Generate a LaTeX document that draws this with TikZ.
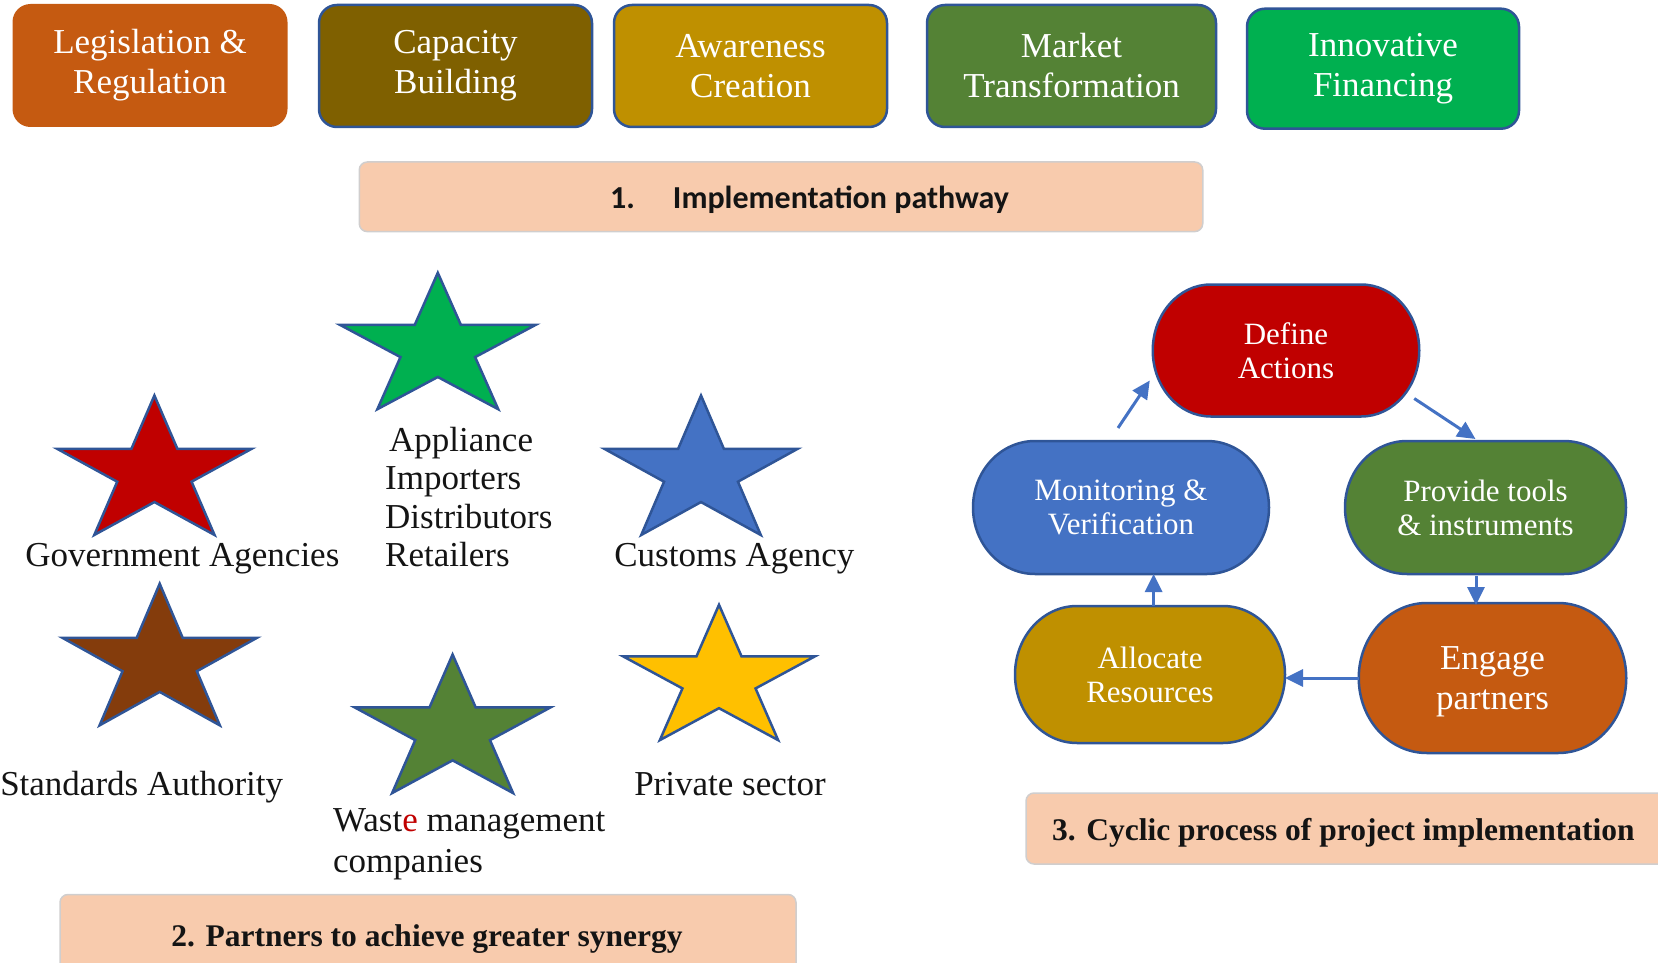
\documentclass[tikz,border=0pt]{standalone}
\usepackage{fontspec}
\setmainfont{Liberation Serif}
\newfontfamily\calfont{Carlito}
\usetikzlibrary{arrows.meta,calc,backgrounds}
\definecolor{cLeg}{HTML}{C55A11}
\definecolor{cCap}{HTML}{7F6000}
\definecolor{cAwa}{HTML}{BF9000}
\definecolor{cMar}{HTML}{548235}
\definecolor{cInn}{HTML}{00B050}
\definecolor{bord}{HTML}{2F5597}
\definecolor{cDef}{HTML}{C00000}
\definecolor{cMon}{HTML}{4472C4}
\definecolor{arrc}{HTML}{4472C4}
\definecolor{capfill}{HTML}{F8CBAD}
\definecolor{capline}{HTML}{D0CECE}
\definecolor{sGreen}{HTML}{00B050}
\definecolor{sRed}{HTML}{C00000}
\definecolor{sBlue}{HTML}{4472C4}
\definecolor{sBrown}{HTML}{843C0C}
\definecolor{sOlive}{HTML}{548235}
\definecolor{sYellow}{HTML}{FFC000}
\definecolor{txt}{HTML}{141414}
\newcommand{\drawmystar}[5]{%
  \begin{scope}[shift={(#1,#2)}, xscale=#3, yscale=-#4]
    \filldraw[fill=#5, draw=bord, line width=2.5pt, line join=miter]
      (90:1) -- (126:0.382) -- (162:1) -- (198:0.382) -- (234:1) -- (270:0.382)
      -- (306:1) -- (342:0.382) -- (18:1) -- (54:0.382) -- cycle;
  \end{scope}}
% #1 node name, #2 x radius, #3 y radius (half height), #4 colour
\newcommand{\stadium}[4]{%
  \filldraw[fill=#4, draw=bord, line width=2.5pt]
    ([xshift=#2]#1.north west) -- ([xshift=-#2]#1.north east)
    arc[start angle=90, end angle=-90, x radius=#2, y radius=#3]
    -- ([xshift=#2]#1.south west)
    arc[start angle=270, end angle=90, x radius=#2, y radius=#3] -- cycle;}
\begin{document}
\begin{tikzpicture}[x=1pt,y=-1pt,
  topbox/.style={rounded corners=18pt, draw=bord, line width=2.5pt, inner sep=0pt,
     text=white, align=center, font=\fontsize{35}{40}\selectfont},
  cyc/.style={inner sep=0pt, outer sep=0pt,
     text=white, align=center, font=\fontsize{31}{34}\selectfont},
  caption/.style={rounded corners=8pt, fill=capfill, draw=capline, line width=1.5pt, inner sep=0pt},
  lbl/.style={inner sep=0pt, text=txt, font=\fontsize{35}{38.4}\selectfont},
  arr/.style={draw=arrc, line width=3pt, -{Triangle[length=18pt,width=17pt]}}
]
\useasboundingbox (0,0) rectangle (1658,963);

% top boxes
\node[topbox, fill=cLeg, draw=none, minimum width=275pt, minimum height=123pt] (leg) at (150,65.5) {Legislation \&\\Regulation};
\node[topbox, fill=cCap, minimum width=273pt, minimum height=122pt] (cap) at (455.5,66) {Capacity\\Building};
\node[topbox, fill=cAwa, minimum width=273pt, minimum height=122pt] (awa) at (750.5,66) {Awareness\\Creation};
\node[topbox, fill=cMar, minimum width=289pt, minimum height=122pt] (mar) at (1071.5,66) {Market\\Transformation};
\node[topbox, fill=cInn, minimum width=272pt, minimum height=120pt] (inn) at (1383,68.7) {Innovative\\Financing};

% caption 1
\node[caption, minimum width=843.5pt, minimum height=69.6pt] (cap1) at (781,196.8) {};
\node[anchor=base west, inner sep=0pt, text=txt, font=\calfont\bfseries\fontsize{32}{36}\selectfont] (cap1t) at (610,208) {1.\hspace{38pt}Implementation pathway};

% stars
\drawmystar{437.8}{348.2}{102.8}{75.4}{sGreen}
\drawmystar{154.4}{472.6}{102.3}{77.1}{sRed}
\drawmystar{701}{472.6}{101.7}{77.1}{sBlue}
\drawmystar{159.7}{662}{102.3}{78.3}{sBrown}
\drawmystar{452.6}{731.1}{102.9}{76.6}{sOlive}
\drawmystar{719}{679.6}{100.6}{74.8}{sYellow}

% star labels
\node[lbl, anchor=base] (gov) at (182.4,566) {Government Agencies};
\node[lbl, anchor=west, align=left] (app) at (385,497) {\hspace*{4pt}Appliance\\Importers\\Distributors\\Retailers};
\node[lbl, anchor=base] (cus) at (734.4,566) {Customs Agency};
\node[lbl, anchor=base] (std) at (141.7,795) {Standards Authority};
\node[lbl, anchor=base] (pri) at (730,795) {Private sector};
\node[lbl, anchor=west, align=left, font=\fontsize{35}{41}\selectfont] (was) at (333,844) {Wast{\color{sRed}e} management\\companies};

% caption 2
\node[caption, minimum width=736pt, minimum height=81pt] (cap2) at (428,935) {};
\node[anchor=base, inner sep=0pt, text=txt, font=\bfseries\fontsize{31.5}{34}\selectfont] (cap2t) at (427,946) {2. Partners to achieve greater synergy};

% caption 3
\node[caption, minimum width=654pt, minimum height=71pt] (cap3) at (1353,828.5) {};
\node[anchor=base west, inner sep=0pt, text=txt, font=\bfseries\fontsize{31.5}{34}\selectfont] (cap3t) at (1052,840) {3. Cyclic process of project implementation};

% cycle
\node[cyc, minimum width=266.5pt, minimum height=132pt] (def) at (1286,350.5) {Define\\Actions};
\node[cyc, minimum width=296pt, minimum height=133pt] (mon) at (1121,507.5) {Monitoring \&\\Verification};
\node[cyc, minimum width=281pt, minimum height=133pt] (prov) at (1485.5,507.5) {Provide tools\\\& instruments};
\node[cyc, minimum width=270pt, minimum height=137pt] (alloc) at (1150,674.5) {Allocate\\Resources};
\node[cyc, minimum width=267.5pt, minimum height=150pt, font=\fontsize{35}{40}\selectfont] (eng) at (1492.5,678) {\rule{0pt}{30pt}Engage\\partners};
\begin{scope}[on background layer]
\stadium{def}{58pt}{66pt}{cDef}
\stadium{mon}{62pt}{66.5pt}{cMon}
\stadium{prov}{62pt}{66.5pt}{cMar}
\stadium{alloc}{62pt}{68.5pt}{cAwa}
\stadium{eng}{68pt}{75pt}{cLeg}
\end{scope}

\draw[arr] ([shift={(-3,-13)}]mon.north) -- ([shift={(-3,30)}]def.west);
\draw[arr] ([shift={(-5,48)}]def.east) -- ([shift={(-10,-2)}]prov.north);
\draw[arr] ([shift={(-9.5,2)}]prov.south) -- ([shift={(-9.5,2)}]prov.south |- eng.north);
\draw[arr] (eng.west) -- (eng.west -| alloc.east);
\draw[arr] ([xshift=3.6pt]alloc.north) -- ([xshift=3.6pt]alloc.north |- mon.south);
\end{tikzpicture}
\end{document}
